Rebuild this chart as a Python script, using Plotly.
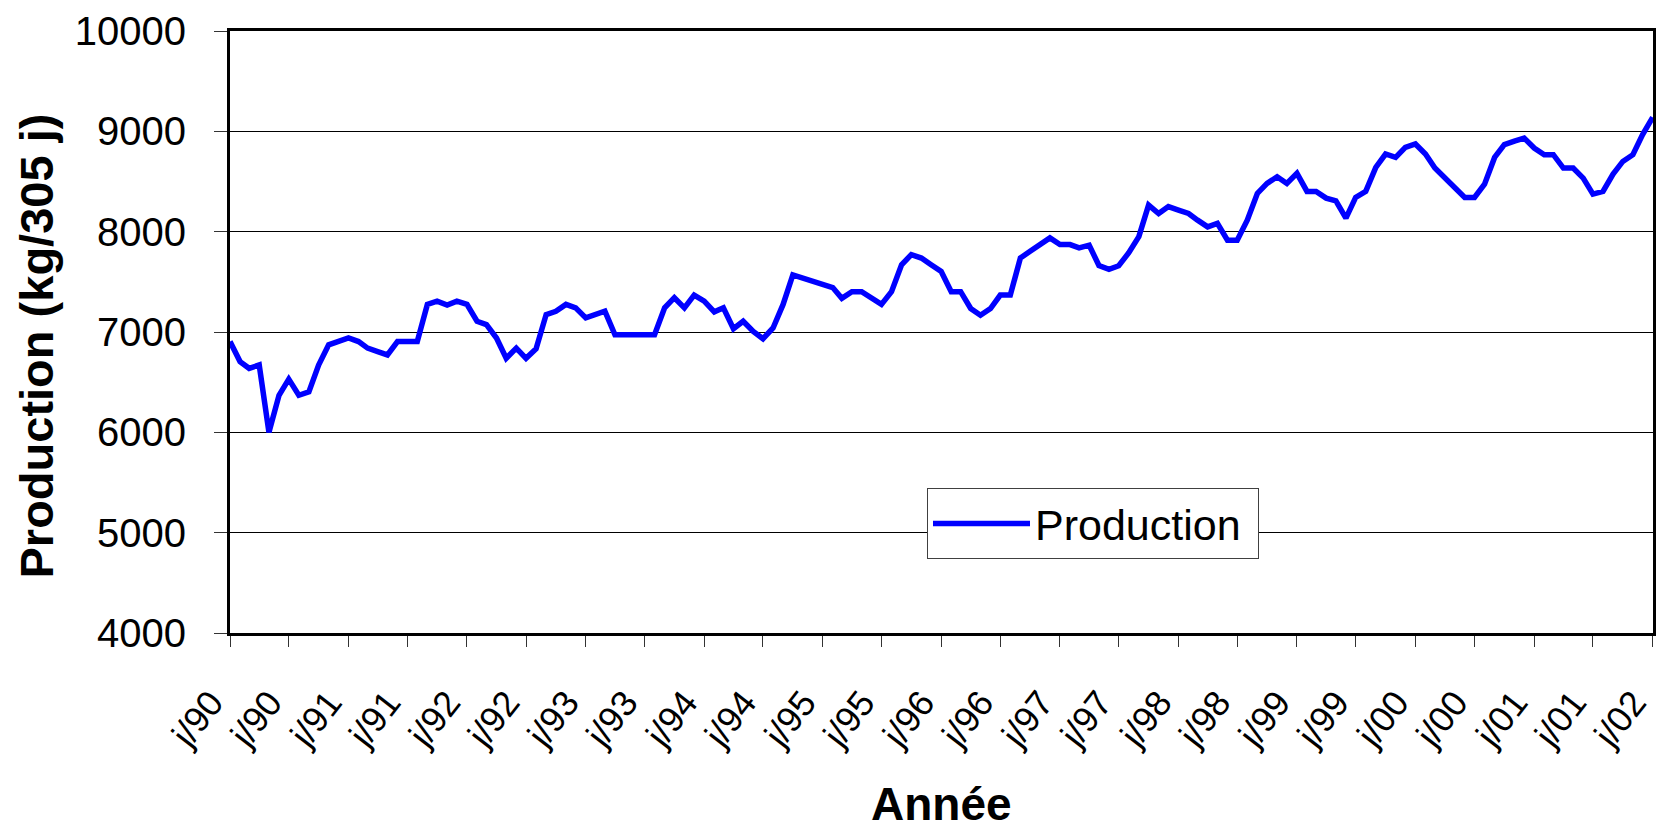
import pandas as pd
import plotly.graph_objects as go

# Monthly dates, Jan 1990 .. Jan 2002
months = pd.date_range("1990-01-01", "2002-01-01", freq="MS")

production = [
    6905, 6705, 6638, 6671, 6000, 6369, 6530, 6369, 6403, 6671, 6872, 6905,
    6940, 6905, 6839, 6805, 6772, 6905, 6905, 6905, 7275, 7308, 7268, 7308,
    7275, 7107, 7073, 6940, 6738, 6839, 6738, 6832, 7174, 7207, 7275, 7241,
    7141, 7174, 7207, 6973, 6973, 6973, 6973, 6973, 7241, 7342, 7241, 7368,
    7308, 7201, 7241, 7033, 7107, 7006, 6933, 7040, 7275, 7569, 7538, 7506,
    7475, 7443, 7335, 7402, 7402, 7335, 7275, 7402, 7670, 7771, 7737, 7670,
    7603, 7402, 7402, 7234, 7167, 7234, 7368, 7368, 7737, 7805, 7871, 7938,
    7871, 7871, 7838, 7865, 7663, 7625, 7660, 7790, 7950, 8265, 8181, 8250,
    8215, 8181, 8115, 8048, 8082, 7915, 7915, 8115, 8381, 8481, 8547, 8481,
    8581, 8401, 8401, 8334, 8308, 8135, 8341, 8401, 8641, 8774, 8740, 8840,
    8874, 8774, 8634, 8531, 8428, 8341, 8341, 8474, 8740, 8867, 8903, 8933,
    8834, 8767, 8767, 8634, 8634, 8534, 8374, 8401, 8574, 8700, 8767, 8967,
    9140,
]

tick_dates = [d.strftime("%Y-%m-%d") for d in
              pd.date_range("1990-01-01", "2002-01-01", freq="6MS")]
tick_labels = [
    "j/90", "j/90", "j/91", "j/91", "j/92", "j/92", "j/93", "j/93", "j/94",
    "j/94", "j/95", "j/95", "j/96", "j/96", "j/97", "j/97", "j/98", "j/98",
    "j/99", "j/99", "j/00", "j/00", "j/01", "j/01", "j/02",
]
y_ticks = [4000, 5000, 6000, 7000, 8000, 9000, 10000]
y_tick_labels = ["4000", "5000", "6000", "7000", "8000", "9000", "10000"]

FONT = "Liberation Sans, Arial, sans-serif"

fig = go.Figure()
fig.add_trace(go.Scatter(
    x=[d.strftime("%Y-%m-%d") for d in months], y=production,
    mode="lines", name="Production ",
    line=dict(color="#0000FF", width=5.5),
))

fig.update_layout(
    width=1656, height=835,
    margin=dict(l=230, r=3, t=31, b=202, autoexpand=False),
    paper_bgcolor="white", plot_bgcolor="white",
    font=dict(family=FONT, color="black"),
    showlegend=True,
    legend=dict(
        x=(927 - 230) / 1423, y=(633 - 488) / 602,
        xanchor="left", yanchor="top",
        bgcolor="white", bordercolor="#404040", borderwidth=1,
        font=dict(family=FONT, size=43, color="black"),
        itemwidth=97,
    ),
)

fig.update_xaxes(
    type="date", automargin=False,
    range=["1990-01-01", "2002-01-02"],
    tickmode="array", tickvals=tick_dates, ticktext=tick_labels,
    tickangle=-52, tickfont=dict(family=FONT, size=36, color="black"),
    ticks="outside", ticklen=11, tickwidth=1, tickcolor="#333",
    ticklabelstandoff=20, ticklabelshift=-19, ticklabeloverflow="allow",
    showgrid=False, zeroline=False,
    showline=True, linecolor="black", linewidth=3, mirror=True,
)
fig.update_yaxes(
    automargin=False,
    range=[4000, 10000],
    tickmode="array", tickvals=y_ticks, ticktext=y_tick_labels,
    tickfont=dict(family=FONT, size=40, color="black"),
    ticks="outside", ticklen=13, tickwidth=1, tickcolor="#333",
    ticklabelstandoff=20,
    showgrid=True, gridcolor="black", gridwidth=1,
    zeroline=False,
    showline=True, linecolor="black", linewidth=3, mirror=True,
)

fig.add_annotation(
    text="<b>Année</b>", xref="paper", yref="paper",
    x=0.5, y=(633 - 832) / 602, xanchor="center", yanchor="bottom",
    showarrow=False, font=dict(family=FONT, size=46, color="black"),
)
fig.add_annotation(
    text="<b>Production (kg/305 j)</b>", xref="paper", yref="paper",
    x=(36 - 230) / 1423, y=(633 - 346.5) / 602,
    xanchor="center", yanchor="middle", textangle=-90,
    showarrow=False, font=dict(family=FONT, size=47, color="black"),
)

fig.write_html("out.html")
